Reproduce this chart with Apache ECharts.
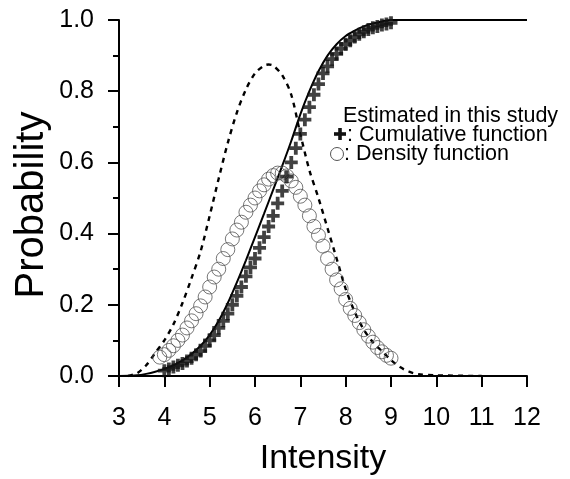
<!DOCTYPE html>
<html><head><meta charset="utf-8">
<script src="https://cdn.jsdelivr.net/npm/echarts@6/dist/echarts.min.js"></script>
<style>html,body{margin:0;padding:0;background:#fff}#c{width:570px;height:479px}</style>
</head><body><div id="c"></div>
<script>
// Axis ticks
const xTickValues = [3, 4, 5, 6, 7, 8, 9, 10, 11, 12];
const yTickLabels = ['0.0', '0.2', '0.4', '0.6', '0.8', '1.0'];

// Dashed curve (reference density)
const dashX = [3.2,3.4,3.6,3.8,4.0,4.2,4.4,4.6,4.8,5.0,5.2,5.4,5.6,5.8,6.0,6.2,6.3,6.4,6.6,6.8,7.0,7.2,7.4,7.6,7.8,8.0,8.2,8.4,8.6,8.8,9.0,9.2,9.4,9.6,10.0,11.0];
const dashY = [0,0.008,0.03,0.065,0.1,0.145,0.205,0.275,0.35,0.45,0.555,0.655,0.74,0.805,0.85,0.872,0.875,0.872,0.845,0.79,0.68,0.578,0.5,0.415,0.33,0.245,0.18,0.13,0.095,0.07,0.045,0.025,0.012,0.005,0.002,0];

// Solid curve (reference cumulative)
const solidX = [3.0,3.4,3.6,3.8,4.0,4.2,4.4,4.6,4.8,5.0,5.2,5.4,5.6,5.8,6.0,6.2,6.4,6.6,6.8,7.0,7.2,7.4,7.6,7.8,8.0,8.2,8.4,8.6,8.8,9.0,9.4,10,11,12];
const solidY = [0,0.002,0.006,0.012,0.02,0.03,0.044,0.062,0.085,0.115,0.155,0.205,0.263,0.325,0.39,0.456,0.523,0.59,0.66,0.735,0.8,0.856,0.9,0.932,0.955,0.97,0.982,0.99,0.996,1.0,1.0,1.0,1.0,1.0];

// Estimated cumulative function (+ markers)
const cumX = [4.0,4.1,4.2,4.3,4.4,4.5,4.6,4.7,4.8,4.9,5.0,5.1,5.2,5.3,5.4,5.5,5.6,5.7,5.8,5.9,6.0,6.1,6.2,6.3,6.4,6.5,6.6,6.7,6.8,6.9,7.0,7.1,7.2,7.3,7.4,7.5,7.6,7.7,7.8,7.9,8.0,8.1,8.2,8.3,8.4,8.5,8.6,8.7,8.8,8.9,9.0];
const cumY = [0.015,0.02,0.025,0.03,0.035,0.042,0.05,0.06,0.07,0.085,0.1,0.115,0.135,0.155,0.175,0.2,0.225,0.25,0.28,0.305,0.33,0.36,0.39,0.42,0.45,0.485,0.52,0.56,0.6,0.64,0.68,0.72,0.755,0.79,0.82,0.85,0.87,0.89,0.905,0.92,0.932,0.942,0.952,0.96,0.967,0.973,0.978,0.982,0.986,0.989,0.992];

// Estimated density function (o markers)
const densX = [3.9,4.0,4.1,4.2,4.3,4.4,4.5,4.6,4.7,4.8,4.9,5.0,5.1,5.2,5.3,5.4,5.5,5.6,5.7,5.8,5.9,6.0,6.1,6.2,6.3,6.4,6.5,6.6,6.7,6.8,6.9,7.0,7.1,7.2,7.3,7.4,7.5,7.6,7.7,7.8,7.9,8.0,8.1,8.2,8.3,8.4,8.5,8.6,8.7,8.8,8.9,9.0];
const densY = [0.053,0.06,0.072,0.085,0.1,0.115,0.135,0.155,0.175,0.197,0.222,0.25,0.278,0.3,0.33,0.355,0.385,0.41,0.432,0.46,0.48,0.5,0.52,0.537,0.553,0.563,0.57,0.57,0.562,0.548,0.53,0.505,0.48,0.45,0.42,0.395,0.365,0.33,0.3,0.27,0.245,0.215,0.19,0.17,0.15,0.13,0.112,0.095,0.08,0.068,0.058,0.05];

const zip = (a, b) => a.map((v, i) => [v, b[i]]);
const sans = "'Liberation Sans', Arial, Helvetica, sans-serif";
const plusPath = 'path://M4.25,0H7.75V4.25H12V7.75H7.75V12H4.25V7.75H0V4.25H4.25Z';

const chart = echarts.init(document.getElementById('c'), null, {renderer: 'canvas'});
chart.setOption({
  animation: false,
  backgroundColor: '#fff',
  grid: {left: 119, right: 43, top: 20, bottom: 103, containLabel: false},
  xAxis: {
    type: 'value', min: xTickValues[0], max: xTickValues[xTickValues.length - 1], interval: 1,
    axisLine: {show: true, onZero: false, lineStyle: {color: '#000', width: 2}},
    axisTick: {show: true, inside: false, length: 11, lineStyle: {color: '#000', width: 2}},
    splitLine: {show: false},
    axisLabel: {color: '#000', fontSize: 25, fontFamily: sans, margin: 30,
      formatter: v => xTickValues.includes(v) ? String(v) : ''}
  },
  yAxis: {
    type: 'value', min: 0, max: 1, interval: 0.2,
    axisLine: {show: true, onZero: false, lineStyle: {color: '#000', width: 2}},
    axisTick: {show: true, inside: false, length: 11, lineStyle: {color: '#000', width: 2}},
    minorTick: {show: true, splitNumber: 2, length: 6, lineStyle: {color: '#000', width: 2}},
    splitLine: {show: false},
    axisLabel: {color: '#000', fontSize: 25, fontFamily: sans, margin: 25,
      formatter: v => yTickLabels[Math.round(v * 5)]}
  },
  series: [
    {type: 'line', data: zip(dashX, dashY), smooth: 0.3, symbol: 'none',
     lineStyle: {color: '#000', width: 2.4, type: [5, 5]}, z: 2},
    {type: 'line', data: zip(solidX, solidY), smooth: 0.3, symbol: 'none',
     lineStyle: {color: '#000', width: 2}, z: 3},
    {type: 'scatter', data: zip(densX, densY), symbol: 'circle', symbolSize: 14,
     itemStyle: {color: 'rgba(0,0,0,0)', borderColor: '#555', borderWidth: 1}, z: 4},
    {type: 'scatter', data: zip(cumX, cumY), symbol: plusPath, symbolSize: 13,
     itemStyle: {color: '#111'}, z: 5}
  ],
  graphic: [
    {type: 'text', x: 32, y: 205, rotation: Math.PI / 2,
     style: {text: 'Probability', fontSize: 40, fontFamily: sans, fill: '#000', align: 'center', verticalAlign: 'middle'}},
    {type: 'text', x: 323, y: 459,
     style: {text: 'Intensity', fontSize: 34, fontFamily: sans, fill: '#000', align: 'center', verticalAlign: 'middle'}},
    {type: 'text', x: 343, y: 116,
     style: {text: 'Estimated in this study', fontSize: 21.5, fontFamily: sans, fill: '#000', align: 'left', verticalAlign: 'middle'}},
    {type: 'rect', shape: {x: 334, y: 132.2, width: 12, height: 3.6}, style: {fill: '#111'}},
    {type: 'rect', shape: {x: 338.2, y: 128, width: 3.6, height: 12}, style: {fill: '#111'}},
    {type: 'text', x: 347, y: 135,
     style: {text: ': Cumulative function', fontSize: 21.5, fontFamily: sans, fill: '#000', align: 'left', verticalAlign: 'middle'}},
    {type: 'circle', shape: {cx: 337, cy: 154, r: 6.5}, style: {fill: 'none', stroke: '#555', lineWidth: 1}},
    {type: 'text', x: 344, y: 154,
     style: {text: ': Density function', fontSize: 21.5, fontFamily: sans, fill: '#000', align: 'left', verticalAlign: 'middle'}}
  ]
});
</script>
</body></html>
